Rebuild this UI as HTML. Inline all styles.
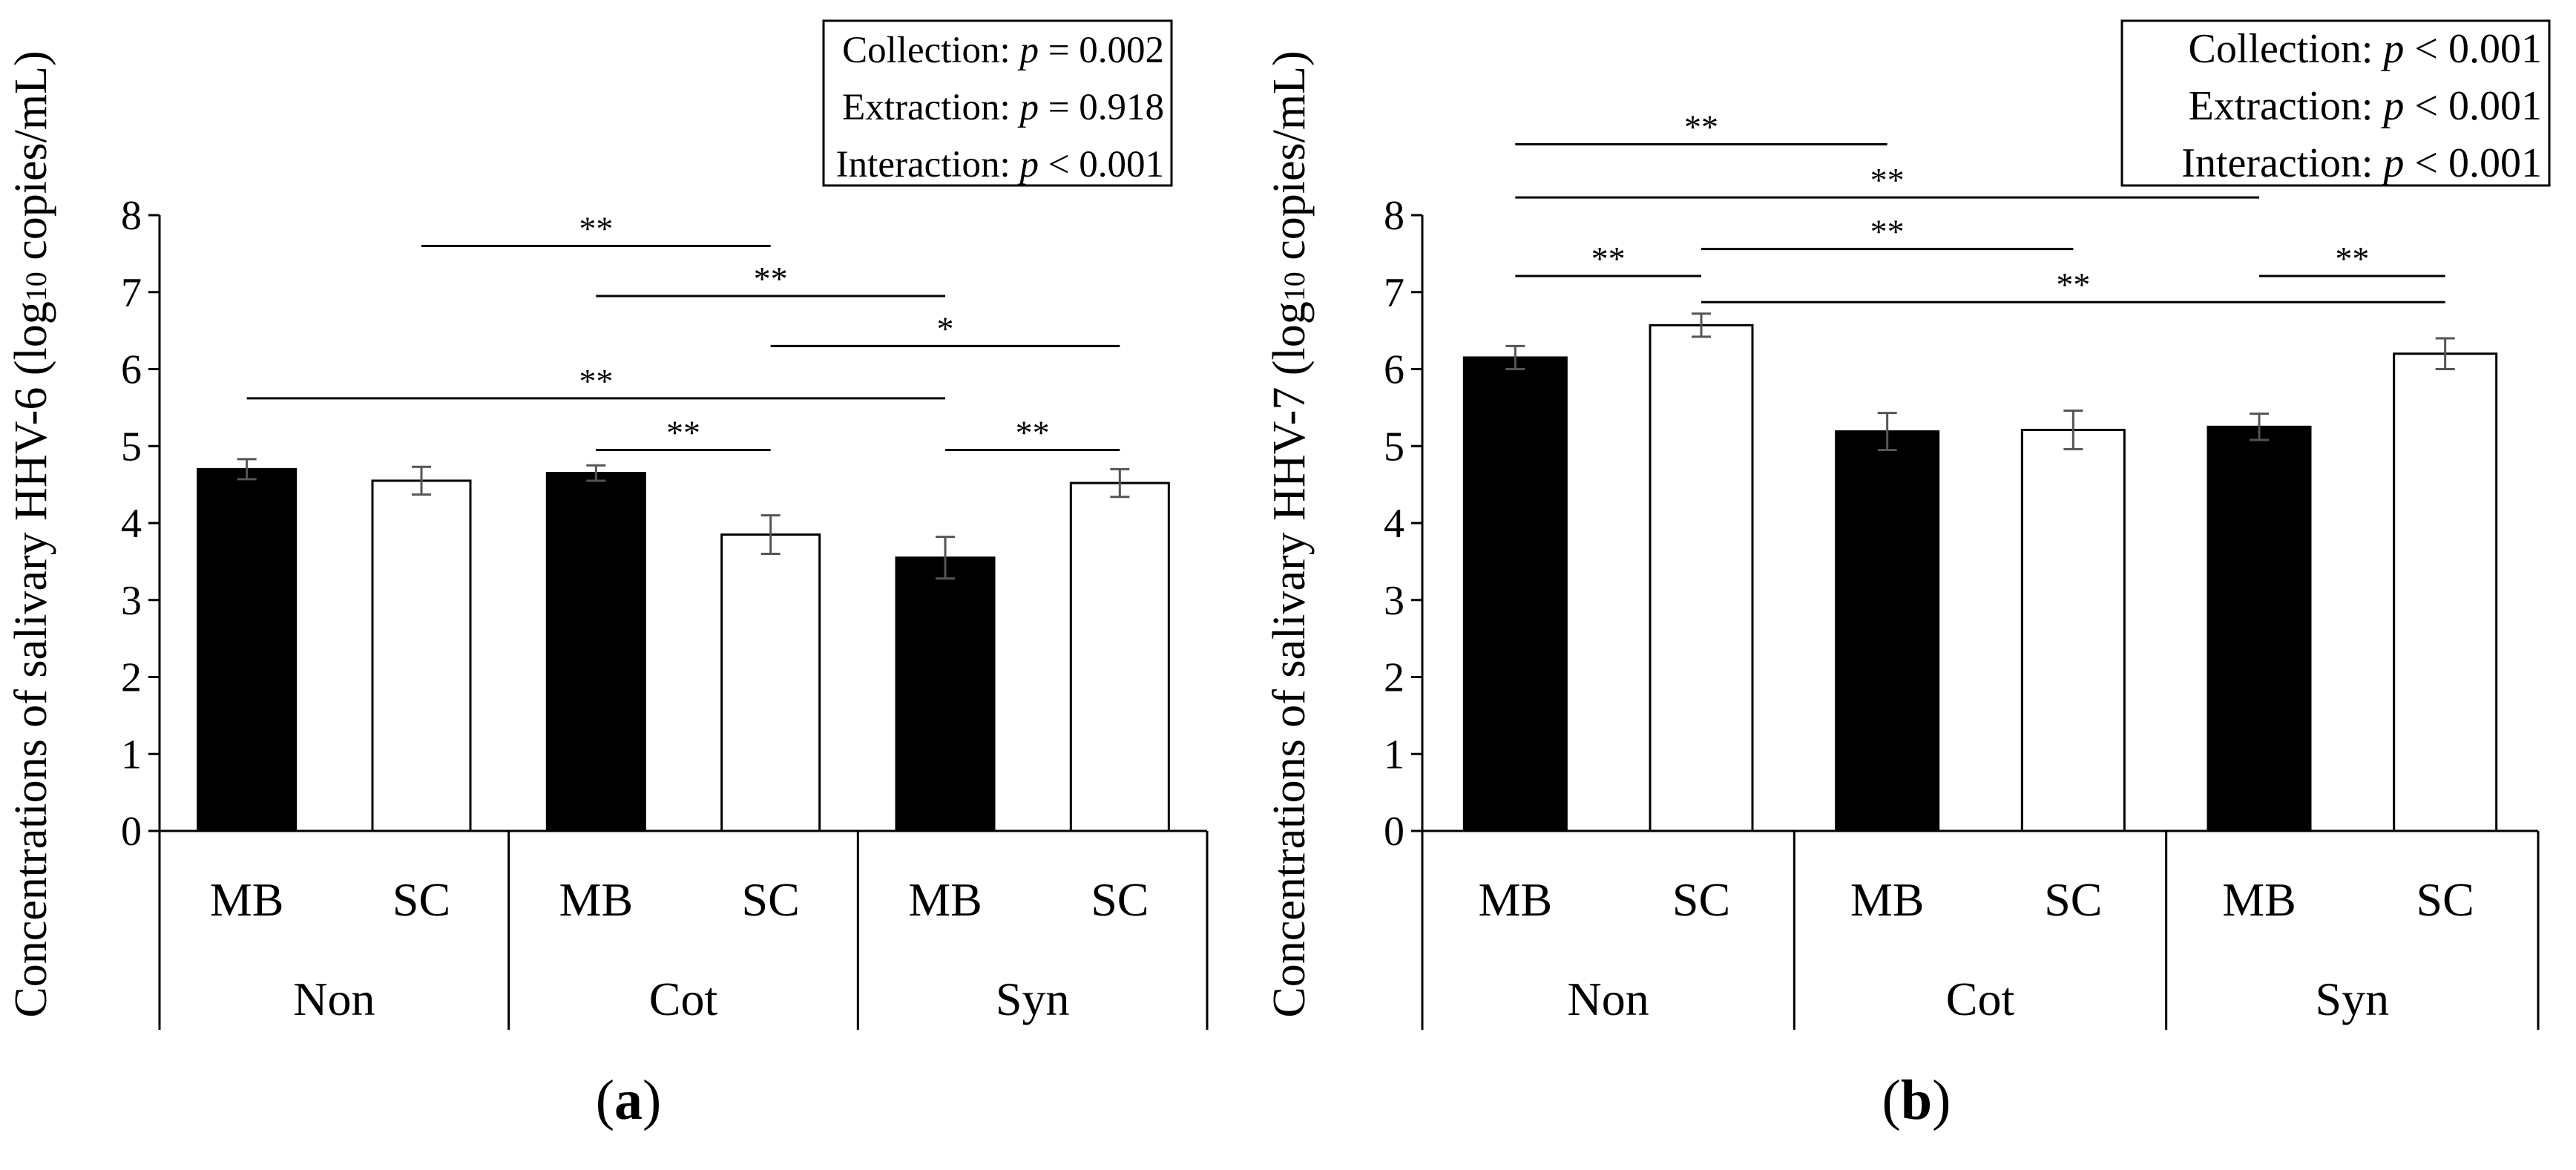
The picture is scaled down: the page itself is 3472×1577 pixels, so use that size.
<!DOCTYPE html>
<html><head><meta charset="utf-8"><style>
html,body{margin:0;padding:0;background:#fff}
svg{display:block}
text{font-family:"Liberation Serif",serif;fill:#000}
</style></head><body>
<svg id="chart" width="3472" height="1577" viewBox="0 0 3472 1577" xmlns="http://www.w3.org/2000/svg"></svg>
<script>
const yTicks=[0,1,2,3,4,5,6,7,8];
const groups=["Non","Cot","Syn"];
const methods=["MB","SC","MB","SC","MB","SC"];
const valuesA=[4.7,4.55,4.65,3.85,3.55,4.52];
const errorsA=[0.13,0.18,0.1,0.25,0.27,0.18];
const valuesB=[6.15,6.57,5.19,5.21,5.25,6.2];
const errorsB=[0.15,0.15,0.24,0.25,0.17,0.2];
const bracketFromA=[1,2,3,0,2,4];
const bracketToA=[3,4,5,4,3,5];
const bracketLevelA=[7.6,6.95,6.3,5.62,4.95,4.95];
const bracketLabelA=["**","**","*","**","**","**"];
const bracketFromB=[0,0,1,0,1,4];
const bracketToB=[2,4,3,1,5,5];
const bracketLevelB=[8.92,8.23,7.56,7.21,6.87,7.21];
const bracketLabelB=["**","**","**","**","**","**"];
const statsA=[["Collection: ","= 0.002"],["Extraction: ","= 0.918"],["Interaction: ","< 0.001"]];
const statsB=[["Collection: ","< 0.001"],["Extraction: ","< 0.001"],["Interaction: ","< 0.001"]];

const svg=document.getElementById('chart');
const NS="http://www.w3.org/2000/svg";
function mk(tag,attrs,parent){const e=document.createElementNS(NS,tag);for(const k in attrs)e.setAttribute(k,attrs[k]);(parent||svg).appendChild(e);return e;}

function panel(p){
  const g=mk('g',{});
  
  
  const y0=1120,y8=290;
  const y=v=>y0-(v-0)*(y0-y8)/8;
  const slot=(p.x1-p.x0)/6;
  const cx=i=>p.x0+slot*(i+0.5);
  const bw=p.bw;
  const ax=mk('line',{x1:p.x0,y1:y(8),x2:p.x0,y2:y0,stroke:'#000','stroke-width':3},g);
  
  
  yTicks.forEach(t=>{
    mk('line',{x1:p.x0-15,y1:y(t),x2:p.x0,y2:y(t),stroke:'#000','stroke-width':3},g);
    const tx=mk('text',{x:p.x0-24,y:y(t)+19,'font-size':56,'text-anchor':'end'},g);
    tx.textContent=t;
    
    
  });
  p.values.forEach((v,i)=>{
    const r=mk('rect',{x:cx(i)-bw/2,y:y(v),width:bw,height:y0-y(v),fill:i%2==0?'#000':'#fff',stroke:'#000','stroke-width':3},g);
    
    
    const e=p.errors[i];
    const eb=mk('path',{d:`M${cx(i)},${y(v+e)}V${y(v-e)}M${cx(i)-13},${y(v+e)}H${cx(i)+13}M${cx(i)-13},${y(v-e)}H${cx(i)+13}`,stroke:'#555','stroke-width':3,fill:'none'},g);
    
    
    const ml=mk('text',{x:cx(i),y:1234,'font-size':64,'text-anchor':'middle'},g);
    ml.textContent=methods[i];
    
    
  });
  const xa=mk('line',{x1:p.x0-15,y1:y0,x2:p.x1,y2:y0,stroke:'#000','stroke-width':3},g);
  
  
  for(let k=0;k<=3;k++){
    const xx=p.x0+slot*2*k;
    mk('line',{x1:xx,y1:y0,x2:xx,y2:1388,stroke:'#000','stroke-width':3},g);
  }
  groups.forEach((gn,k)=>{
    const t=mk('text',{x:p.x0+slot*(2*k+1),y:1368,'font-size':64,'text-anchor':'middle'},g);
    t.textContent=gn;
    
    
  });
  p.bf.forEach((f,j)=>{
    const a=cx(f),b=cx(p.bt[j]),yy=y(p.bl[j]);
    const l=mk('line',{x1:a,y1:yy,x2:b,y2:yy,stroke:'#000','stroke-width':3},g);
    
    
    const t=mk('text',{x:(a+b)/2,y:yy-8,'font-size':46,'text-anchor':'middle'},g);
    t.textContent=p.blab[j];
    
    
  });
  const yt=mk('text',{x:0,y:0,'font-size':62,'text-anchor':'middle',transform:`translate(${p.tx},720) rotate(-90)`},g);
  yt.innerHTML='Concentrations of salivary '+p.virus+' (log<tspan font-size="40">10</tspan> copies/mL)';
  
  
  const bx=mk('rect',{x:p.bx0,y:28,width:p.bx1-p.bx0,height:222,fill:'#fff',stroke:'#000','stroke-width':3},g);
  
  
  p.stats.forEach((s,j)=>{
    const t=mk('text',{x:p.bx1-10,y:84+j*77,'font-size':p.sf,'text-anchor':'end'},g);
    t.innerHTML=s[0]+'<tspan font-style="italic">p</tspan> '+s[1];
    
    
  });
  const pl=mk('text',{x:p.lx,y:1508,'font-size':76,'text-anchor':'middle'},g);
  pl.innerHTML='(<tspan font-weight="bold">'+p.id+'</tspan>)';
  
  
}
panel({id:'a',x0:215,x1:1627,bw:132,values:valuesA,errors:errorsA,bf:bracketFromA,bt:bracketToA,bl:bracketLevelA,blab:bracketLabelA,virus:'HHV-6',tx:62,bx0:1110,bx1:1579,stats:statsA,sf:51,lx:847});
panel({id:'b',x0:1917,x1:3421,bw:138,values:valuesB,errors:errorsB,bf:bracketFromB,bt:bracketToB,bl:bracketLevelB,blab:bracketLabelB,virus:'HHV-7',tx:1758,bx0:2860,bx1:3436,stats:statsB,sf:56,lx:2583});
</script>
</body></html>
